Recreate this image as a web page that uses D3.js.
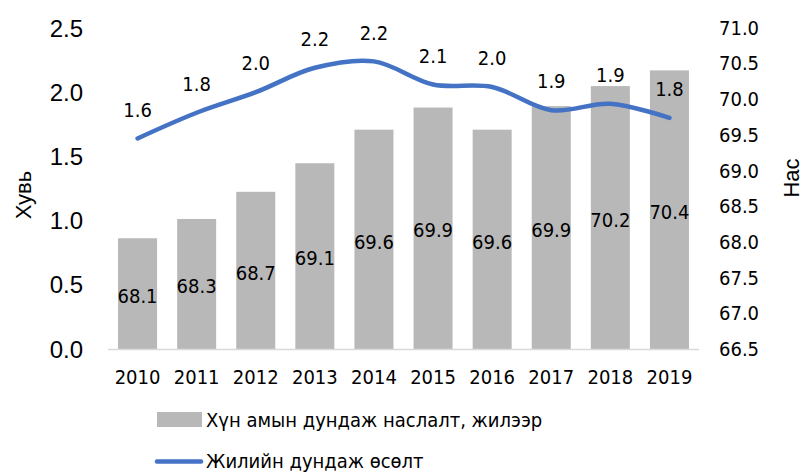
<!DOCTYPE html>
<html lang="mn">
<meta charset="utf-8">
<head>
    <script src='https://d3js.org/d3.v7.min.js'></script>
    <style>
        body { margin: 0; background: #fff; }
        .t { font-family: "DejaVu Sans Condensed", "DejaVu Sans", sans-serif; font-stretch: condensed; fill: #000; }
    </style>
</head>
<body>
</body>

<script>
    var width = 805, height = 473;

    // data
    var years = ['2010','2011','2012','2013','2014','2015','2016','2017','2018','2019'];
    var lifeExp = [68.05, 68.32, 68.70, 69.10, 69.57, 69.88, 69.57, 69.90, 70.18, 70.40];
    var lifeLabels = ['68.1','68.3','68.7','69.1','69.6','69.9','69.6','69.9','70.2','70.4'];
    var growth = [1.64, 1.84, 2.00, 2.19, 2.24, 2.06, 2.04, 1.86, 1.91, 1.80];
    var leftTicks = [0, 0.5, 1.0, 1.5, 2.0, 2.5];
    var rightTicks = [66.5, 67.0, 67.5, 68.0, 68.5, 69.0, 69.5, 70.0, 70.5, 71.0];
    var seriesNames = ['Хүн амын дундаж наслалт, жилээр', 'Жилийн дундаж өсөлт'];

    var svg = d3.select('body').append('svg').attr('width', width).attr('height', height);

    var x = d3.scaleBand().domain(years).range([108, 699]).paddingInner(0.34).paddingOuter(0.17);
    var yL = d3.scaleLinear().domain([0, 2.5]).range([349, 28]);
    var yR = d3.scaleLinear().domain([66.5, 71.0]).range([349, 27.5]);

    // bars
    svg.selectAll('rect.bar')
        .data(lifeExp)
        .join('rect')
        .attr('class', 'bar')
        .attr('x', function(d, i) { return x(years[i]); })
        .attr('width', x.bandwidth())
        .attr('y', function(d) { return yR(d); })
        .attr('height', function(d) { return yR(66.5) - yR(d); })
        .attr('fill', '#b8b8b8');

    // category axis line
    svg.append('line')
        .attr('x1', 108).attr('x2', 699)
        .attr('y1', 349.5).attr('y2', 349.5)
        .attr('stroke', '#d9d9d9').attr('stroke-width', 1.5);

    // bar labels
    svg.selectAll('text.blab')
        .data(lifeExp)
        .join('text')
        .attr('class', 't blab')
        .attr('x', function(d, i) { return x(years[i]) + x.bandwidth() / 2; })
        .attr('y', function(d) { return (yR(d) + 349) / 2 + 2; })
        .attr('dy', '0.36em')
        .attr('text-anchor', 'middle')
        .style('font-size', '20px')
        .text(function(d, i) { return lifeLabels[i]; });

    // line
    var line = d3.line()
        .x(function(d, i) { return x(years[i]) + x.bandwidth() / 2; })
        .y(function(d) { return yL(d); })
        .curve(d3.curveCatmullRom.alpha(0.5));
    svg.append('path')
        .datum(growth)
        .attr('d', line)
        .attr('fill', 'none')
        .attr('stroke', '#4472c4')
        .attr('stroke-width', 4.5)
        .attr('stroke-linecap', 'round');

    // line labels
    svg.selectAll('text.llab')
        .data(growth)
        .join('text')
        .attr('class', 't llab')
        .attr('x', function(d, i) { return x(years[i]) + x.bandwidth() / 2; })
        .attr('y', function(d) { return yL(d) - 29; })
        .attr('dy', '0.36em')
        .attr('text-anchor', 'middle')
        .style('font-size', '20px')
        .text(function(d) { return d.toFixed(1); });

    // year labels
    svg.selectAll('text.yr')
        .data(years)
        .join('text')
        .attr('class', 't yr')
        .attr('x', function(d) { return x(d) + x.bandwidth() / 2; })
        .attr('y', 377)
        .attr('dy', '0.36em')
        .attr('text-anchor', 'middle')
        .style('font-size', '20px')
        .text(function(d) { return d; });

    // left axis ticks
    svg.selectAll('text.lt')
        .data(leftTicks)
        .join('text')
        .attr('x', 83)
        .attr('y', function(d) { return yL(d); })
        .attr('dy', '0.36em')
        .attr('text-anchor', 'end')
        .style('font-family', '"Liberation Sans", Arial, sans-serif')
        .style('font-size', '24px')
        .text(function(d) { return d.toFixed(1); });

    // right axis ticks
    svg.selectAll('text.rt')
        .data(rightTicks)
        .join('text')
        .attr('class', 't rt')
        .attr('x', 719)
        .attr('y', function(d) { return yR(d); })
        .attr('dy', '0.36em')
        .attr('text-anchor', 'start')
        .style('font-size', '20px')
        .text(function(d) { return d.toFixed(1); });

    // axis titles
    svg.append('text')
        .attr('transform', 'translate(31,195) rotate(-90)')
        .attr('text-anchor', 'middle')
        .style('font-family', '"Liberation Sans", Arial, sans-serif')
        .style('font-size', '22px')
        .text('Хувь');
    svg.append('text')
        .attr('transform', 'translate(799,178) rotate(-90)')
        .attr('text-anchor', 'middle')
        .style('font-family', '"Liberation Sans", Arial, sans-serif')
        .style('font-size', '22px')
        .text('Нас');

    // legend
    svg.append('rect')
        .attr('x', 157).attr('y', 412).attr('width', 45).attr('height', 15)
        .attr('fill', '#b8b8b8');
    svg.append('text')
        .attr('class', 't')
        .attr('x', 206).attr('y', 420).attr('dy', '0.36em')
        .style('font-size', '20px')
        .text(seriesNames[0]);
    svg.append('line')
        .attr('x1', 157).attr('x2', 201).attr('y1', 461.5).attr('y2', 461.5)
        .attr('stroke', '#4472c4').attr('stroke-width', 4.5).attr('stroke-linecap', 'round');
    svg.append('text')
        .attr('class', 't')
        .attr('x', 206).attr('y', 461).attr('dy', '0.36em')
        .style('font-size', '20px')
        .text(seriesNames[1]);

    console.log('ready..');
</script>
